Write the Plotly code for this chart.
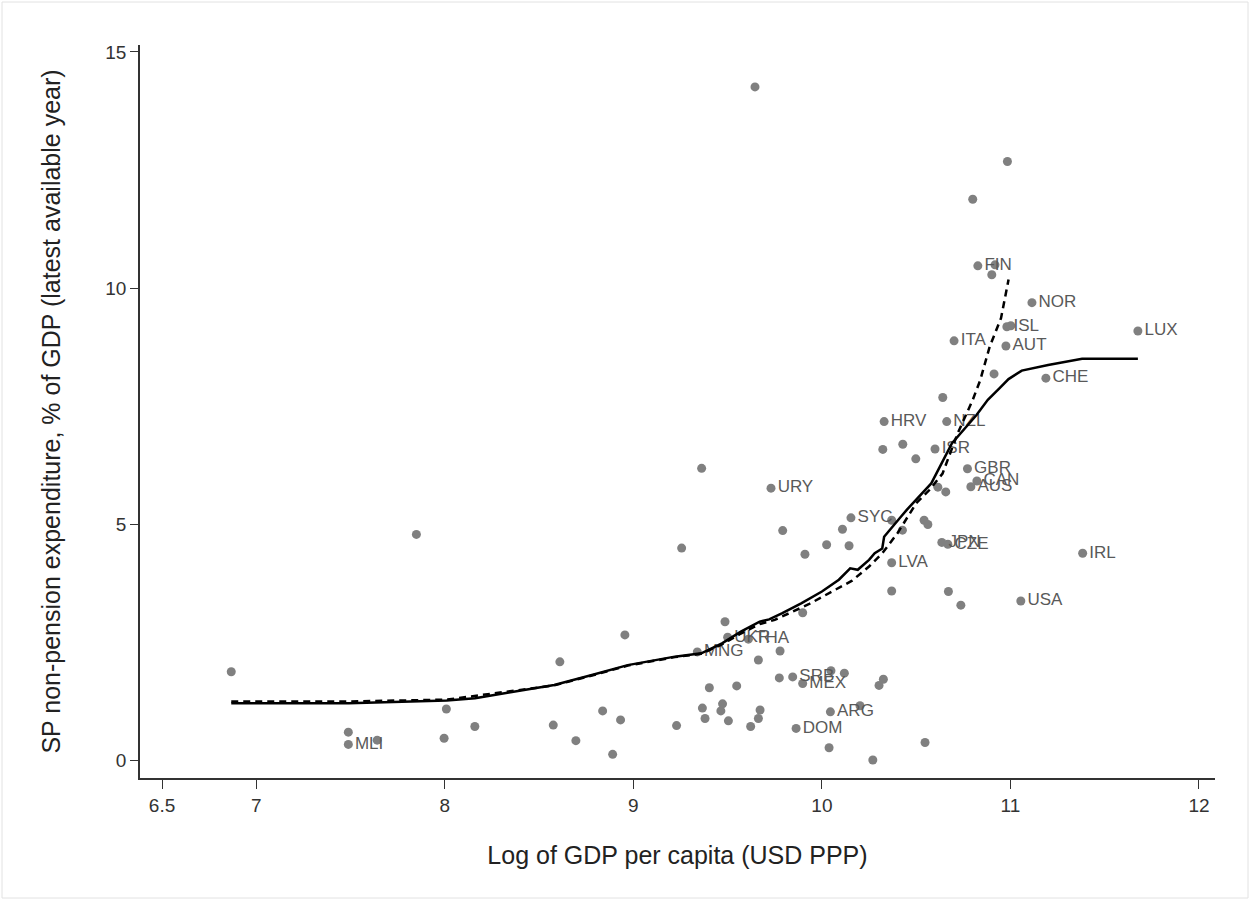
import plotly.graph_objects as go

# Labelled countries: log GDP per capita and SP non-pension spending (% of GDP)
labelled_codes = ["MLI", "MNG", "UKR", "THA", "SRB", "MEX", "ARG", "DOM", "URY", "SYC",
                  "LVA", "HRV", "NZL", "ISR", "GBR", "CAN", "AUS", "JPN", "CZE", "USA",
                  "IRL", "CHE", "LUX", "AUT", "ITA", "ISL", "NOR", "FIN"]
labelled_gdp = [7.488, 9.339, 9.500, 9.610, 9.845, 9.898, 10.045, 9.863, 9.730, 10.154,
                10.370, 10.330, 10.662, 10.600, 10.772, 10.822, 10.790, 10.636, 10.668, 11.055,
                11.383, 11.188, 11.676, 10.976, 10.701, 10.981, 11.114, 10.827]
labelled_sp = [0.33, 2.29, 2.60, 2.56, 1.76, 1.62, 1.02, 0.67, 5.76, 5.13,
               4.18, 7.17, 7.17, 6.59, 6.17, 5.91, 5.79, 4.61, 4.57, 3.37,
               4.38, 8.09, 9.09, 8.77, 8.88, 9.18, 9.69, 10.47]

# Remaining countries (no label)
other_gdp = [6.867, 7.488, 7.641, 7.849, 8.008, 7.996, 8.159, 8.610, 8.575, 8.695,
             8.837, 8.932, 8.890, 8.955, 9.256, 9.362, 9.229, 9.403, 9.366, 9.380,
             9.486, 9.473, 9.464, 9.504, 9.548, 9.622, 9.663, 9.672, 9.663, 9.778,
             9.774, 9.898, 10.048, 10.119, 10.326, 10.303, 10.202, 10.038, 10.270, 10.547,
             10.370, 10.671, 10.737, 9.792, 9.910, 10.025, 10.109, 10.144, 10.370, 10.427,
             10.542, 10.562, 10.323, 10.429, 10.498, 10.615, 10.657, 10.641, 10.913, 10.918,
             10.901, 10.800, 10.984, 9.645, 11.002]
other_sp = [1.87, 0.59, 0.42, 4.78, 1.08, 0.46, 0.71, 2.08, 0.74, 0.41,
            1.04, 0.85, 0.12, 2.65, 4.49, 6.18, 0.73, 1.53, 1.10, 0.88,
            2.93, 1.19, 1.04, 0.83, 1.57, 0.71, 0.88, 1.06, 2.12, 2.31,
            1.74, 3.12, 1.89, 1.84, 1.71, 1.58, 1.15, 0.26, 0.00, 0.37,
            3.58, 3.57, 3.28, 4.86, 4.36, 4.56, 4.89, 4.54, 5.08, 4.87,
            5.08, 4.99, 6.58, 6.69, 6.38, 5.78, 5.68, 7.68, 8.18, 10.49,
            10.28, 11.88, 12.68, 14.26, 9.20]

# Smoothed fit over all countries (solid)
fit_all_x = [6.867, 7.49, 8.01, 8.16, 8.34, 8.58, 8.78, 8.97, 9.22, 9.36,
             9.47, 9.57, 9.67, 9.72, 9.79, 9.89, 10.00, 10.09, 10.15, 10.19,
             10.25, 10.28, 10.32, 10.33, 10.42, 10.45, 10.58, 10.69, 10.82, 10.88,
             10.94, 10.99, 11.06, 11.20, 11.38, 11.676]
fit_all_y = [1.20, 1.20, 1.26, 1.31, 1.43, 1.59, 1.80, 2.01, 2.19, 2.26,
             2.47, 2.72, 2.93, 2.98, 3.11, 3.32, 3.57, 3.82, 4.06, 4.03,
             4.24, 4.38, 4.48, 4.73, 5.16, 5.30, 5.86, 6.71, 7.31, 7.63,
             7.87, 8.07, 8.25, 8.37, 8.50, 8.50]

# Smoothed fit excluding the highest-income outliers (dashed)
fit_sub_x = [6.867, 7.49, 8.01, 8.30, 8.58, 8.78, 8.97, 9.22, 9.36, 9.47,
             9.57, 9.67, 9.75, 9.93, 10.07, 10.16, 10.25, 10.32, 10.40, 10.50,
             10.57, 10.64, 10.72, 10.80, 10.84, 10.89, 10.95, 10.99]
fit_sub_y = [1.24, 1.24, 1.28, 1.43, 1.58, 1.79, 2.00, 2.18, 2.25, 2.45,
             2.68, 2.88, 2.97, 3.30, 3.60, 3.80, 4.10, 4.38, 4.80, 5.44,
             5.72, 6.07, 6.92, 7.63, 8.05, 8.76, 9.36, 10.18]

x_ticks = [6.5, 7, 8, 9, 10, 11, 12]
x_tick_text = ["6.5", "7", "8", "9", "10", "11", "12"]
y_ticks = [0, 5, 10, 15]

FONT = "Liberation Sans, Arial, sans-serif"
DOT = "#808080"
LABEL = "#595959"
AXIS = "#333333"

fig = go.Figure()

fig.add_trace(go.Scatter(
    x=other_gdp, y=other_sp, mode="markers",
    marker=dict(size=9, color=DOT), hoverinfo="skip", showlegend=False))

fig.add_trace(go.Scatter(
    x=labelled_gdp, y=labelled_sp, mode="markers+text",
    text=labelled_codes, textposition="middle right",
    textfont=dict(family=FONT, size=17, color=LABEL),
    marker=dict(size=9, color=DOT), showlegend=False))

fig.add_trace(go.Scatter(
    x=fit_all_x, y=fit_all_y, mode="lines",
    line=dict(color="black", width=2.5), showlegend=False))

fig.add_trace(go.Scatter(
    x=fit_sub_x, y=fit_sub_y, mode="lines",
    line=dict(color="black", width=2.5, dash="7px,5px"), showlegend=False))

fig.update_layout(
    width=1250, height=907,
    margin=dict(l=140, r=35, t=45, b=129),
    paper_bgcolor="white", plot_bgcolor="white",
    font=dict(family=FONT, color=AXIS),
    xaxis=dict(
        range=[6.383, 12.085], tickvals=x_ticks, ticktext=x_tick_text,
        ticks="outside", ticklen=9, tickwidth=1.3, tickcolor=AXIS,
        showline=True, linecolor=AXIS, linewidth=1.5,
        showgrid=False, zeroline=False,
        tickfont=dict(family=FONT, size=19, color=AXIS),
        title=dict(text="Log of GDP per capita (USD PPP)",
                   font=dict(family=FONT, size=25, color="#222222"), standoff=32),
    ),
    yaxis=dict(
        range=[-0.381, 15.148], tickvals=y_ticks,
        ticks="outside", ticklen=8, tickwidth=1.3, tickcolor=AXIS,
        showline=True, linecolor=AXIS, linewidth=1.5,
        showgrid=False, zeroline=False,
        tickfont=dict(family=FONT, size=19, color=AXIS),
        title=dict(text="SP non-pension expenditure, % of GDP (latest available year)",
                   font=dict(family=FONT, size=25, color="#222222"), standoff=38),
    ),
    shapes=[dict(type="rect", xref="paper", yref="paper",
                 x0=-138 / 1075, x1=1108 / 1075, y0=-120 / 733, y1=776 / 733,
                 line=dict(color="#e2e2e2", width=1), layer="below")],
)

fig.write_html("out.html")
